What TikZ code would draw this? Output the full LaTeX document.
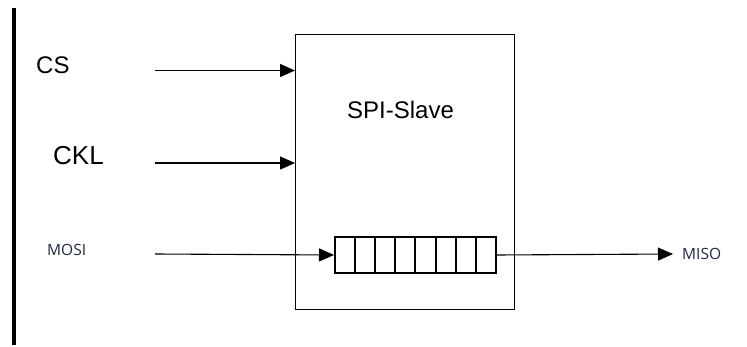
\documentclass[tikz,border=0pt]{standalone}
\usepackage{fontspec}
\setmainfont{Liberation Sans}
\newfontfamily\labfont{Open Sans}
\usetikzlibrary{arrows.meta}
\definecolor{labblue}{HTML}{1F2940}
\tikzset{
  wire/.style={line width=1.1pt,-{Triangle[length=15pt,width=13pt]}},
  bigtxt/.style={inner sep=0pt,font=\fontsize{24}{26}\selectfont},
  smalltxt/.style={inner sep=0pt,text=labblue,font=\labfont\fontsize{15.5}{17}\selectfont},
  cell/.style={draw,line width=2pt,minimum width=20.1pt,minimum height=36pt,inner sep=0pt,anchor=north west},
}
\begin{document}
\begin{tikzpicture}[x=1pt,y=-1pt]
\useasboundingbox (0,0) rectangle (747,347);
% left bar
\draw[line width=4pt] (14,8) coordinate (bartop) -- (14,345) coordinate (barbot);
% main box
\node[draw,line width=1.4pt,minimum width=219pt,minimum height=275pt,inner sep=0pt,anchor=north west] (box) at (295,34) {};
\node[bigtxt,anchor=west] (title) at (347,110) {SPI-Slave};
% labels
\node[bigtxt,anchor=west] (cslab) at (36,65) {CS};
\node[bigtxt,anchor=west,font=\fontsize{26}{28}\selectfont] (cklab) at (53,156) {CKL};
\node[smalltxt,anchor=west] (mosilab) at (47,250) {MOSI};
% register cells
\foreach \i in {0,...,7}{
  \node[cell] (c\i) at ({334+\i*20.1},236) {};
}
\node[smalltxt,anchor=west] (misolab) at (682,254) {MISO};
% input wires
\coordinate (csstart) at (155,70.5);
\coordinate (ckstart) at (155,163);
\coordinate (mosistart) at (155,254);
\coordinate (misoend) at (673,254);
\draw[wire] (csstart) -- (csstart -| box.west);
\draw[wire] (ckstart) -- (ckstart -| box.west);
\draw[wire] (mosistart) -- (c0.west);
\draw[wire] (c7.east) -- (misoend);
\end{tikzpicture}
\end{document}
